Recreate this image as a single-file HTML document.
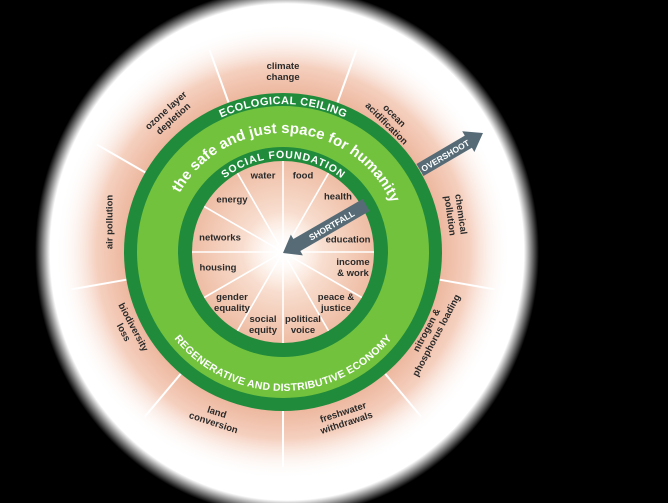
<!DOCTYPE html>
<html><head><meta charset="utf-8"><style>
html,body{margin:0;padding:0;width:668px;height:503px;overflow:hidden;background:#000}
.bg{position:absolute;left:0;top:0;width:668px;height:503px;background:radial-gradient(ellipse 252px 264px at 287px 252px,#fff 94%,#000 100%)}
svg{position:absolute;left:0;top:0}
.l{position:absolute;font-family:"Liberation Sans",sans-serif;font-weight:bold;font-size:9.5px;line-height:11px;color:#2a2a2a;text-align:center;white-space:nowrap;transform:translate(-50%,-50%)}
</style></head><body>
<div class="bg"></div>
<svg width="668" height="503" viewBox="0 0 668 503" font-family="Liberation Sans, sans-serif">
<defs>
<radialGradient id="pk" cx="283" cy="252" r="228" gradientUnits="userSpaceOnUse">
<stop offset="0.68" stop-color="#ecb49a"/><stop offset="0.82" stop-color="#f5d0bf"/><stop offset="1" stop-color="#fff" stop-opacity="0"/></radialGradient>
<radialGradient id="ink" cx="283" cy="252" r="92" gradientUnits="userSpaceOnUse">
<stop offset="0" stop-color="#fff"/><stop offset="0.3" stop-color="#fbe6da"/><stop offset="1" stop-color="#eebca3"/></radialGradient>
<radialGradient id="glow" cx="283" cy="252" r="40" gradientUnits="userSpaceOnUse">
<stop offset="0" stop-color="#fff" stop-opacity="1"/><stop offset="1" stop-color="#fff" stop-opacity="0"/></radialGradient>
<path id="pEco" d="M135 252 A148 148 0 0 1 431 252"/>
<path id="pSafe" d="M164 252 A119 119 0 0 1 402 252"/>
<path id="pSoc" d="M189 252 A94 94 0 0 1 377 252"/>
<path id="pReg" d="M152 252 A131 131 0 0 0 414 252"/>
</defs>
<circle cx="283" cy="252" r="228" fill="url(#pk)"/>
<g stroke="#fff" stroke-width="2">
<line x1="228.6" y1="102.6" x2="209.5" y2="49.9"/>
<line x1="337.4" y1="102.6" x2="356.5" y2="49.9"/>
<line x1="420.7" y1="172.5" x2="469.2" y2="144.5"/>
<line x1="439.6" y1="279.7" x2="494.7" y2="289.4"/>
<line x1="385.2" y1="373.8" x2="421.2" y2="416.7"/>
<line x1="283" y1="411" x2="283" y2="467"/>
<line x1="180.8" y1="373.8" x2="144.8" y2="416.7"/>
<line x1="126.4" y1="279.7" x2="71.3" y2="289.4"/>
<line x1="145.3" y1="172.5" x2="96.8" y2="144.5"/>
</g>
<circle cx="283" cy="252" r="159" fill="#218b3c"/>
<circle cx="283" cy="252" r="146" fill="#72c23e"/>
<circle cx="283" cy="252" r="105" fill="#218b3c"/>
<circle cx="283" cy="252" r="91" fill="url(#ink)"/>
<g stroke="#fff" stroke-width="1.6">
<line x1="283" y1="252" x2="283" y2="161"/><line x1="283" y1="252" x2="328.5" y2="173.2"/>
<line x1="283" y1="252" x2="361.8" y2="206.5"/><line x1="283" y1="252" x2="374" y2="252"/>
<line x1="283" y1="252" x2="361.8" y2="297.5"/><line x1="283" y1="252" x2="328.5" y2="330.8"/>
<line x1="283" y1="252" x2="283" y2="343"/><line x1="283" y1="252" x2="237.5" y2="330.8"/>
<line x1="283" y1="252" x2="204.2" y2="297.5"/><line x1="283" y1="252" x2="192" y2="252"/>
<line x1="283" y1="252" x2="204.2" y2="206.5"/><line x1="283" y1="252" x2="237.5" y2="173.2"/>
</g>
<circle cx="283" cy="252" r="40" fill="url(#glow)"/>
<g fill="#fff" font-weight="bold">
<text font-size="11"><textPath href="#pEco" startOffset="50%" text-anchor="middle" textLength="128">ECOLOGICAL CEILING</textPath></text>
<text font-size="15"><textPath href="#pSafe" startOffset="51.5%" text-anchor="middle" textLength="262">the safe and just space for humanity</textPath></text>
<text font-size="10.5"><textPath href="#pSoc" startOffset="50%" text-anchor="middle" textLength="126">SOCIAL FOUNDATION</textPath></text>
<text font-size="10.5" dy="8"><textPath href="#pReg" startOffset="50%" text-anchor="middle" textLength="236">REGENERATIVE AND DISTRIBUTIVE ECONOMY</textPath></text>
</g>
<g transform="translate(420,170) rotate(-30.4)" fill="#566b76">
<rect x="0" y="-7" width="58" height="14"/><polygon points="56,-12 73,0 56,12"/>
<text x="29" y="3.5" fill="#fff" font-size="8.5" font-weight="bold" text-anchor="middle">OVERSHOOT</text>
</g>
<g transform="translate(283,253) rotate(-30)" fill="#566b76">
<polygon points="0,0 16,-12 16,12"/><rect x="15" y="-7" width="81" height="14"/>
<text x="56" y="3.5" fill="#fff" font-size="8.5" font-weight="bold" text-anchor="middle">SHORTFALL</text>
</g>
</svg>
<div class="l" style="left:283px;top:72px">climate<br>change</div>
<div class="l" style="left:170px;top:115px;transform:translate(-50%,-50%) rotate(-42deg)">ozone layer<br>depletion</div>
<div class="l" style="left:390px;top:120px;transform:translate(-50%,-50%) rotate(45deg)">ocean<br>acidification</div>
<div class="l" style="left:455px;top:215px;transform:translate(-50%,-50%) rotate(82deg)">chemical<br>pollution</div>
<div class="l" style="left:432px;top:333px;transform:translate(-50%,-50%) rotate(-62deg)">nitrogen &amp;<br>phosphorus loading</div>
<div class="l" style="left:345px;top:418px;transform:translate(-50%,-50%) rotate(-18deg)">freshwater<br>withdrawals</div>
<div class="l" style="left:215px;top:418px;transform:translate(-50%,-50%) rotate(18deg)">land<br>conversion</div>
<div class="l" style="left:128px;top:330px;transform:translate(-50%,-50%) rotate(62deg)">biodiversity<br>loss</div>
<div class="l" style="left:110px;top:222px;transform:translate(-50%,-50%) rotate(-90deg)">air pollution</div>
<div class="l" style="left:263px;top:176px">water</div>
<div class="l" style="left:303px;top:176px">food</div>
<div class="l" style="left:338px;top:197px">health</div>
<div class="l" style="left:348px;top:240px">education</div>
<div class="l" style="left:353px;top:268px">income<br>&amp; work</div>
<div class="l" style="left:336px;top:303px">peace &amp;<br>justice</div>
<div class="l" style="left:303px;top:325px">political<br>voice</div>
<div class="l" style="left:263px;top:325px">social<br>equity</div>
<div class="l" style="left:232px;top:303px">gender<br>equality</div>
<div class="l" style="left:218px;top:268px">housing</div>
<div class="l" style="left:220px;top:238px">networks</div>
<div class="l" style="left:232px;top:200px">energy</div>
</body></html>
